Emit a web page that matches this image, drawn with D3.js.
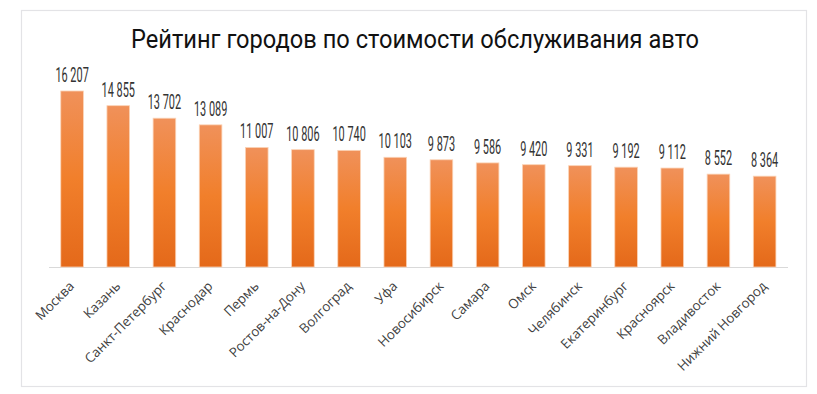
<!DOCTYPE html>
<html>
<head>
<meta charset="utf-8">
<script src="https://cdn.jsdelivr.net/npm/d3@7"></script>
<style>
  body { margin: 0; background: #fff; }
  svg { display: block; }
</style>
</head>
<body>
<div id="chart"></div>
<script>
(function(d3){

    // города и средняя стоимость обслуживания, руб.
    var cities = ["Москва", "Казань", "Санкт-Петербург", "Краснодар", "Пермь",
        "Ростов-на-Дону", "Волгоград", "Уфа", "Новосибирск", "Самара", "Омск",
        "Челябинск", "Екатеринбург", "Красноярск", "Владивосток", "Нижний Новгород"];
    var costs = [16207, 14855, 13702, 13089, 11007, 10806, 10740, 10103, 9873,
        9586, 9420, 9331, 9192, 9112, 8552, 8364];
    var title = "Рейтинг городов по стоимости обслуживания авто";

    var W = 817, H = 394;
    var base = 267, top = 91;

    var svg = d3.select("#chart").append("svg")
            .attr("width", W)
            .attr("height", H);

    var defs = svg.append("defs");
    var grad = defs.append("linearGradient")
            .attr("id", "barGrad")
            .attr("x1", 0).attr("y1", 0)
            .attr("x2", 0).attr("y2", 1);
    grad.append("stop").attr("offset", "0%").attr("stop-color", "#f0915a");
    grad.append("stop").attr("offset", "50%").attr("stop-color", "#f17f2b");
    grad.append("stop").attr("offset", "100%").attr("stop-color", "#e4691a");

    //рамка
    svg.append("rect")
            .attr("x", 21.5).attr("y", 10.5)
            .attr("width", 785).attr("height", 376)
            .attr("fill", "#fff")
            .attr("stroke", "#e3e3e6")
            .attr("stroke-width", 1.2);

    svg.append("text")
            .attr("x", 415).attr("y", 48)
            .attr("text-anchor", "middle")
            .attr("textLength", 568)
            .attr("lengthAdjust", "spacingAndGlyphs")
            .style("font-family", "Roboto, 'DejaVu Sans Condensed', sans-serif")
            .style("font-size", "25px")
            .style("fill", "#111")
            .text(title);

    var x = d3.scaleBand()
            .domain(cities)
            .range([49, 787.7])
            .paddingInner(0.51)
            .paddingOuter(0.255);

    var y = d3.scaleLinear()
            .domain([0, d3.max(costs)])
            .range([base, top]);

    var data = cities.map(function(c, i){ return {city: c, cost: costs[i]}; });

    svg.append("line")
            .attr("x1", 49).attr("x2", 788)
            .attr("y1", base + 0.5).attr("y2", base + 0.5)
            .attr("stroke", "#d9d9d9")
            .attr("stroke-width", 1);

    svg.selectAll("rect.bar")
            .data(data)
            .enter()
            .append("rect")
            .attr("class", "bar")
            .attr("x", function(d){ return x(d.city); })
            .attr("y", function(d){ return y(d.cost); })
            .attr("width", x.bandwidth())
            .attr("height", function(d){ return base - y(d.cost); })
            .style("fill", "url(#barGrad)")
            .style("stroke", "#fbd3b6")
            .style("stroke-width", 0.8);

    var fmt = function(v){ return d3.format(",")(v).replace(",", " "); };

    svg.selectAll("text.val")
            .data(data)
            .enter()
            .append("text")
            .attr("class", "val")
            .attr("transform", function(d){
                return "translate(" + (x(d.city) + x.bandwidth() / 2) + "," + (y(d.cost) - 9) + ") scale(0.56,1)";
            })
            .attr("text-anchor", "middle")
            .style("font-family", "Roboto, sans-serif")
            .style("font-size", "19.5px")
            .style("fill", "#333")
            .text(function(d){ return fmt(d.cost); });

    svg.selectAll("text.cat")
            .data(data)
            .enter()
            .append("text")
            .attr("class", "cat")
            .attr("transform", function(d){
                return "translate(" + (x(d.city) + x.bandwidth() / 2 + 3) + "," + (base + 20) + ") rotate(-45)";
            })
            .attr("text-anchor", "end")
            .style("font-family", "'Open Sans', 'Noto Sans', sans-serif")
            .style("font-size", "13.3px")
            .style("fill", "#404040")
            .text(function(d){ return d.city; });

})(d3);
</script>
</body>
</html>
